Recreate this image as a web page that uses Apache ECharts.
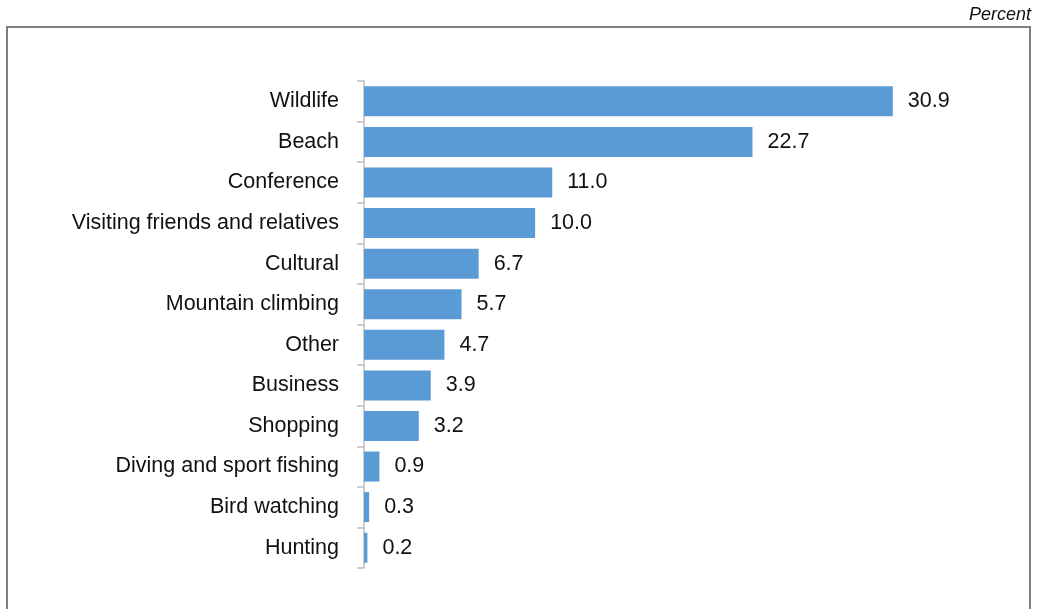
<!DOCTYPE html>
<html><head><meta charset="utf-8">
<script src="https://cdn.jsdelivr.net/npm/echarts@6/dist/echarts.min.js"></script>
<style>html,body{margin:0;padding:0;background:#fff}#c{width:1042px;height:609px}</style>
</head><body><div id="c"></div>
<script>
const categories = ["Wildlife","Beach","Conference","Visiting friends and relatives","Cultural","Mountain climbing","Other","Business","Shopping","Diving and sport fishing","Bird watching","Hunting"];
const values = [30.9,22.7,11.0,10.0,6.7,5.7,4.7,3.9,3.2,0.9,0.3,0.2];
const unitLabel = "Percent";

const chart = echarts.init(document.getElementById('c'), null, {renderer:'canvas'});
chart.setOption({
  animation:false,
  backgroundColor:'#fff',
  grid:{left:364,right:79,top:81,bottom:41,containLabel:false},
  xAxis:{type:'value',min:0,max:35,show:false},
  yAxis:{type:'category',data:categories,inverse:true,
    axisLine:{show:true,lineStyle:{color:'#bfbfbf',width:1.5}},
    axisTick:{show:true,length:7,lineStyle:{color:'#bfbfbf',width:1.5}},
    axisLabel:{margin:25,color:'#111',fontSize:21.5,fontFamily:'Liberation Sans, Arial, sans-serif'},
    splitLine:{show:false}},
  series:[{type:'bar',data:values,barWidth:30,
    itemStyle:{color:'#5b9bd5'},
    label:{show:true,position:'right',distance:15,color:'#111',fontSize:21.5,fontFamily:'Liberation Sans, Arial, sans-serif',
      formatter:p=>p.value.toFixed(1)}}],
  graphic:[
    {type:'rect',shape:{x:7,y:27,width:1023,height:600},style:{fill:'none',stroke:'#7f7f7f',lineWidth:2},silent:true},
    {type:'text',right:11,top:6,style:{text:unitLabel,font:'italic 18px Liberation Sans, Arial, sans-serif',fill:'#111',textAlign:'right'}}
  ]
});
</script></body></html>
